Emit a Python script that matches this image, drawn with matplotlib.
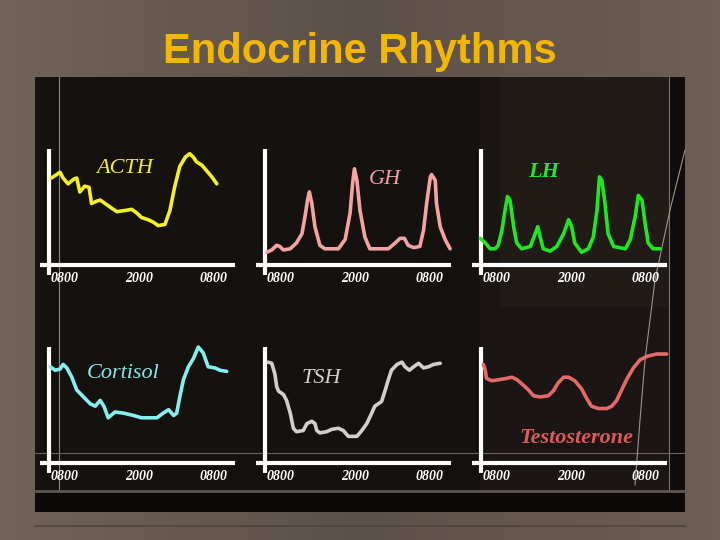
import matplotlib
matplotlib.use('Agg')
import matplotlib.pyplot as plt
import matplotlib.patches as patches
import numpy as np

# ============================================================
# Data (hours after 0800, relative level 0-100)
# ============================================================
tick_hours = [0, 12, 24]
tick_labels = ['0800', '2000', '0800']

acth_hours = [-2.2, -0.8, -0.3, 0.5, 1.4, 1.9, 2.4, 3.2, 3.9, 4.3, 5.1, 5.7, 6.5, 7.3,
              8.4, 9.7, 10.8, 11.6, 12.4, 13.5, 14.3, 15.1, 16.2, 17.0, 17.8, 18.6,
              19.5, 20.2, 20.8, 21.3, 22.2, 23.0, 23.8, 24.6]
acth_level = [75, 80, 75, 70, 74, 75, 63, 68, 67, 53, 55, 56, 53, 50,
              46, 47, 48, 45, 41, 39, 37, 34, 35, 47, 68, 85,
              93, 96, 93, 89, 86, 81, 76, 70]

gh_hours = [-2.3, -1.5, -0.7, -0.2, 0.4, 1.5, 2.5, 3.4, 3.9, 4.3, 4.6, 5.0, 5.5, 6.3,
            7.1, 9.3, 10.4, 11.2, 11.6, 11.9, 12.3, 12.8, 13.6, 14.4, 17.4, 18.5,
            19.3, 20.0, 20.6, 21.5, 22.5, 23.1, 23.6, 24.2, 24.4, 25.0, 25.2, 25.8,
            26.6, 27.4]
gh_level = [11, 13, 17, 16, 13, 14, 19, 27, 42, 56, 63, 53, 33, 17,
            14, 14, 22, 45, 70, 83, 73, 47, 24, 14, 14, 19,
            23, 23, 17, 15, 16, 30, 53, 76, 78, 73, 53, 33,
            22, 14]

lh_hours = [-2.7, -1.9, -1.1, -0.3, 0.2, 0.8, 1.3, 1.7, 2.1, 2.7, 3.2, 4.0, 5.4, 6.2,
            6.6, 7.0, 7.5, 8.6, 9.7, 10.8, 11.6, 12.1, 12.6, 13.7, 14.8, 15.6,
            16.2, 16.6, 17.0, 17.5, 18.0, 18.9, 20.8, 21.6, 22.4, 22.9, 23.5, 24.0,
            24.5, 25.3, 26.4]
lh_level = [23, 19, 14, 14, 17, 30, 47, 59, 56, 33, 19, 14, 16, 27,
            33, 24, 14, 12, 16, 27, 39, 33, 19, 11, 14, 24,
            47, 76, 73, 53, 27, 16, 14, 22, 42, 60, 56, 36,
            19, 14, 14]

cortisol_hours = [-2.4, -1.6, -0.8, -0.3, 0.3, 1.1, 1.9, 3.0, 4.1, 4.9, 5.7, 6.3, 7.0, 8.1,
                  9.5, 11.1, 12.4, 14.9, 15.9, 16.8, 17.6, 18.1, 18.6, 19.2, 20.0,
                  20.8, 21.6, 22.4, 23.2, 24.3, 25.1, 26.2]
cortisol_level = [83, 80, 81, 85, 82, 74, 63, 57, 51, 49, 54, 49, 39, 44,
                  43, 41, 39, 39, 43, 46, 41, 43, 57, 72, 83,
                  90, 100, 95, 83, 82, 80, 79]

tsh_hours = [-2.1, -1.5, -1.0, -0.7, -0.4, 0.4, 0.9, 1.5, 2.0, 2.5, 3.6, 4.2, 5.0, 5.5,
             5.8, 6.3, 7.4, 8.2, 9.3, 10.1, 10.9, 12.3, 13.1, 13.9, 14.7, 15.2,
             16.3, 16.9, 17.4, 17.9, 18.8, 19.6, 20.1, 20.8, 21.5, 22.3, 23.1, 23.9,
             24.7, 25.8]
tsh_level = [87, 86, 77, 66, 62, 59, 54, 43, 30, 27, 28, 34, 36, 34,
             28, 26, 27, 29, 30, 28, 23, 23, 28, 34, 43, 49,
             53, 63, 72, 80, 85, 87, 83, 80, 83, 86, 82, 83,
             85, 86]

testo_hours = [-2.2, -1.9, -1.7, -0.9, 0.5, 1.6, 2.4, 3.2, 4.3, 5.1, 5.9, 7.0, 8.3, 9.1,
               9.9, 10.8, 11.6, 12.6, 13.7, 14.5, 15.3, 16.4, 17.8, 18.6, 19.4, 20.2,
               21.0, 22.1, 23.2, 24.3, 25.9, 27.5]
testo_level = [85, 80, 73, 71, 72, 73, 74, 72, 67, 63, 58, 57, 58, 62,
               69, 74, 74, 71, 64, 56, 49, 47, 47, 49, 54, 63,
               72, 82, 89, 92, 94, 94]

# ============================================================
# Figure + slide background
# ============================================================
fig = plt.figure(figsize=(7.2, 5.4), dpi=100)
bg = fig.add_axes([0, 0, 1, 1])
bg.set_xlim(0, 720)
bg.set_ylim(540, 0)
bg.axis('off')

left_c = np.array([0x70, 0x63, 0x58]) / 255
mid_c = np.array([0x5c, 0x51, 0x49]) / 255
right_c = np.array([0x6e, 0x5e, 0x53]) / 255
t = np.linspace(0, 1, 200)[:, None]
grad = np.where(t < 0.5, left_c + (mid_c - left_c) * (t / 0.5),
                mid_c + (right_c - mid_c) * ((t - 0.5) / 0.5))
bg.imshow(grad[None, :, :], extent=(0, 720, 540, 0), aspect='auto', zorder=0)

# dark panel
bg.add_patch(patches.Rectangle((35, 77), 650, 435, facecolor='#15110f',
                               edgecolor='none', zorder=1))
bg.add_patch(patches.Rectangle((480, 77), 189, 414, facecolor='#1b1613',
                               edgecolor='none', zorder=1))
bg.add_patch(patches.Rectangle((500, 77), 169, 230, facecolor='#211b18',
                               edgecolor='none', zorder=1))
bg.add_patch(patches.Rectangle((669, 77), 16, 435, facecolor='#0f0c0b',
                               edgecolor='none', zorder=1))
bg.add_patch(patches.Rectangle((35, 492), 650, 20, facecolor='#0c0908',
                               edgecolor='none', zorder=1))

# thin frame lines
bg.plot([59, 59], [77, 491], color='#8a8480', lw=0.8, zorder=2)
bg.plot([669, 669], [77, 491], color='#79716b', lw=0.8, zorder=2)
bg.plot([35, 685], [453, 453], color='#6a6360', lw=0.8, zorder=2)
bg.plot([35, 685], [491, 491], color='#5e5752', lw=2, zorder=2)
bg.plot([35, 685], [526, 526], color='#4e4540', lw=1.2, zorder=2)
bg.plot([685, 670, 655, 645, 640, 635], [150, 210, 280, 360, 420, 485],
        color='#9a948e', lw=0.8, zorder=2)

# Title
bg.text(360, 63, 'Endocrine Rhythms', ha='center', va='baseline',
        fontsize=30, fontweight='bold', family='Liberation Sans',
        color='#f2b705', zorder=3)

# ============================================================
# Small rhythm charts
# ============================================================
X0, X1 = -4.05, 27.55
Y0, Y1 = -21.55, 107.8


def panel_axes(col, row):
    left = 40 + col * 216
    top = 140 + row * 198
    ax = fig.add_axes([left / 720, 1 - (top + 150) / 540, 195 / 720, 150 / 540])
    ax.set_xlim(X0, X1)
    ax.set_ylim(Y0, Y1)
    ax.axis('off')
    ax.patch.set_alpha(0)
    # white axes
    ax.plot([X0, X1], [0, 0], color='white', lw=3, solid_capstyle='butt',
            clip_on=False, zorder=2)
    ax.plot([-2.6, -2.6], [-8.6, 100], color='white', lw=3,
            solid_capstyle='butt', clip_on=False, zorder=2)
    for h, lab in zip(tick_hours, tick_labels):
        ax.text(h, -12, lab, ha='center', va='center', fontsize=10,
                fontstyle='italic', fontweight='bold', family='Liberation Serif',
                color='white')
    return ax


panels = [
    (0, 0, acth_hours, acth_level, '#f2f02a', 'ACTH', '#eeee33', 9.7, 83.6, 'normal'),
    (1, 0, gh_hours, gh_level, '#f4a3a3', 'GH', '#f0a0a0', 16.9, 74, 'normal'),
    (2, 0, lh_hours, lh_level, '#22e622', 'LH', '#2ee02e', 7.5, 80, 'bold'),
    (0, 1, cortisol_hours, cortisol_level, '#86eeee', 'Cortisol', '#86e8e8', 9.4, 77.6, 'normal'),
    (1, 1, tsh_hours, tsh_level, '#cfcfcf', 'TSH', '#d0d0d0', 6.6, 73, 'normal'),
    (2, 1, testo_hours, testo_level, '#e46a6a', 'Testosterone', '#d85a5a', 12.8, 21.6, 'bold'),
]

for col, row, hrs, lvl, color, name, tcolor, tx, ty, weight in panels:
    ax = panel_axes(col, row)
    ax.plot(hrs, lvl, color=color, lw=2.6, solid_joinstyle='round',
            solid_capstyle='round', zorder=3, clip_on=False)
    ax.text(tx, ty, name, ha='center', va='center', fontsize=16,
            fontstyle='italic', fontweight=weight, family='Liberation Serif',
            color=tcolor, zorder=4)

fig.savefig('out.png', dpi=100)
plt.close()
